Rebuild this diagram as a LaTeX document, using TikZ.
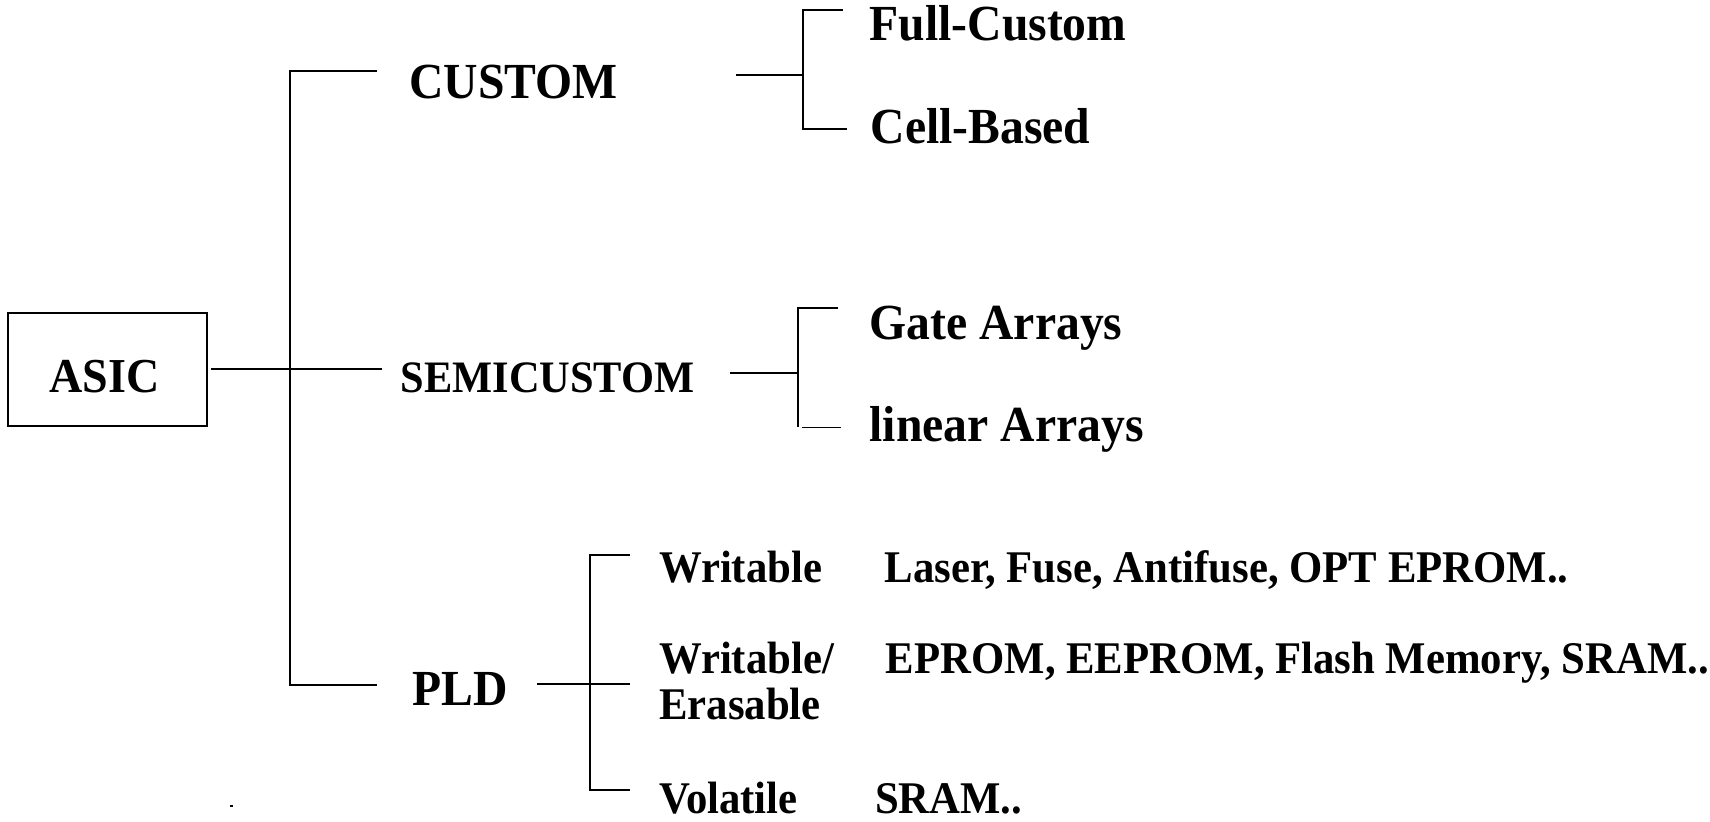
\documentclass[tikz,border=0pt]{standalone}
\usepackage{graphicx}
\usepackage{fontspec}
\setmainfont{Liberation Serif}
% slightly tall lettering
\newcommand\tallx[1]{\scalebox{1}[1.06]{#1}}
\tikzset{
  conn/.style={line width=0.9pt, line cap=butt},
  lbl/.style={inner sep=0pt, anchor=base west, font=\bfseries},
  big/.style={lbl, font=\fontsize{21.85pt}{24pt}\selectfont\bfseries},
  mid/.style={lbl, font=\fontsize{19.45pt}{22pt}\selectfont\bfseries},
  leaf/.style={lbl, font=\fontsize{19.6pt}{22pt}\selectfont\bfseries},
  rootbox/.style={draw, line width=0.9pt, minimum width=91.5pt, minimum height=52pt, inner sep=0pt},
}
\begin{document}
\begin{tikzpicture}[x=0.5pt, y=-0.5pt]
\useasboundingbox (0,0) rectangle (1568,753);

% root
\node[rootbox] (asic) at (98.5,339) {};
\node[inner sep=0pt, font=\fontsize{21.1pt}{24pt}\selectfont\bfseries] (asictext) at (96,345) {\tallx{ASIC}};

% first level
\node[big] (custom) at (375,90) {\tallx{CUSTOM}};
\node[mid] (semi) at (367,360) {\tallx{SEMICUSTOM}};
\node[big] (pld) at (378,647) {\tallx{PLD}};

% second level
\node[big] (full) at (797,37) {\tallx{Full-Custom}};
\node[big] (cell) at (798,132) {\tallx{Cell-Based}};
\node[big] (gate) at (797,311) {\tallx{Gate Arrays}};
\node[big] (lin) at (797,405) {\tallx{linear Arrays}};

\node[leaf] (wr) at (604,534) {\tallx{Writable}};
\node[leaf] (wrx) at (811,534) {\tallx{Laser, Fuse, Antifuse, OPT EPROM..}};
\node[leaf] (we) at (604,618) {\tallx{Writable/}};
\node[leaf] (we2) at (604,660) {\tallx{Erasable}};
\node[leaf] (wex) at (812,618) {\tallx{EPROM, EEPROM, Flash Memory, SRAM..}};
\node[leaf] (vol) at (604,746) {\tallx{Volatile}};
\node[leaf] (volx) at (802,746) {\tallx{SRAM..}};

% stray mark near the bottom
\fill (210.5,738) rectangle (213.5,740);

% spine from the root
\coordinate (sT) at (266,65);
\coordinate (sB) at (266,628);
\coordinate (cEnd) at (346,65);
\coordinate (sEnd) at (350,338);
\coordinate (pEnd) at (346,628);
\draw[conn] (cEnd) -- (sT) -- (sB) -- (pEnd);
\draw[conn] (asic.east |- sEnd) ++(3,0) -- (sEnd);

% CUSTOM bracket
\coordinate (c0) at (675,69);
\coordinate (c1) at (736,69);
\coordinate (cT) at (736,9);
\coordinate (cB) at (736,118);
\coordinate (cTe) at (773,9);
\coordinate (cBe) at (777,118);
\draw[conn] (c0) -- (c1);
\draw[conn] (cTe) -- (cT) -- (cB) -- (cBe);

% SEMICUSTOM bracket
\coordinate (m0) at (669,342);
\coordinate (m1) at (732,342);
\coordinate (mT) at (732,282);
\coordinate (mB) at (732,392);
\coordinate (mTe) at (768,282);
\coordinate (mBs) at (735,392);
\coordinate (mBe) at (771,392);
\draw[conn] (m0) -- (m1);
\draw[conn] (mTe) -- (mT) -- (mB);
\draw[conn] (mBs) -- (mBe);

% PLD bracket
\coordinate (p0) at (492,627);
\coordinate (p1) at (578,627);
\coordinate (pT) at (541,509);
\coordinate (pB) at (541,724);
\coordinate (pTe) at (578,509);
\coordinate (pBe) at (578,724);
\draw[conn] (p0) -- (p1);
\draw[conn] (pTe) -- (pT) -- (pB) -- (pBe);
\end{tikzpicture}
\end{document}
